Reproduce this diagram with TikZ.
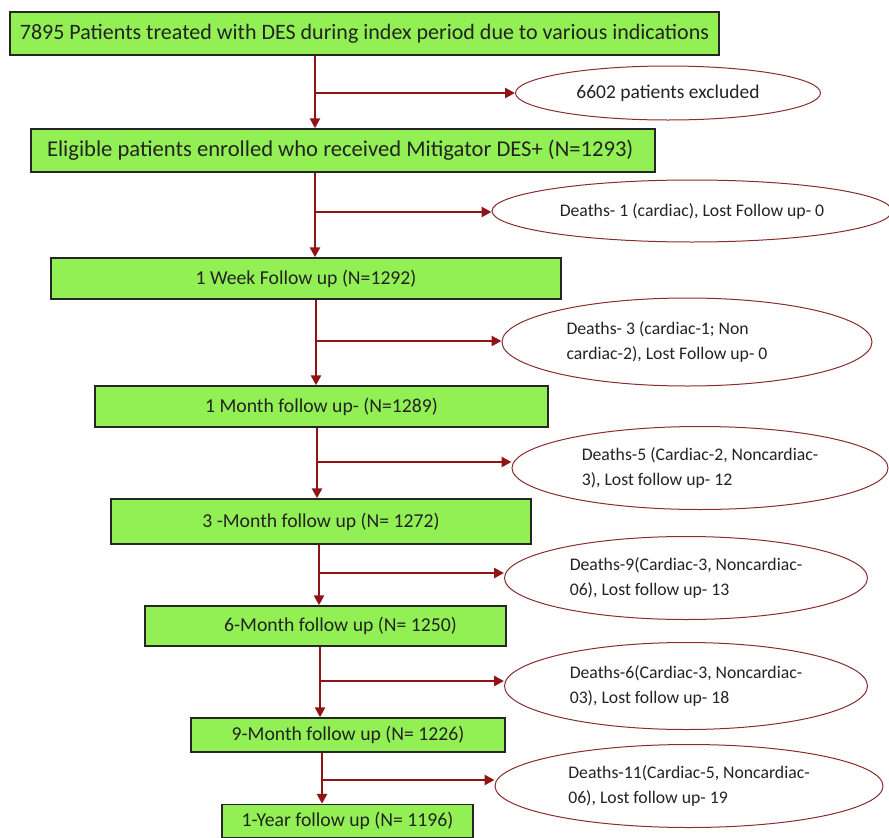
\documentclass[tikz,border=0pt]{standalone}
\usepackage{fontspec}
\setmainfont{Carlito}
\usetikzlibrary{shapes.geometric,arrows.meta}
\definecolor{boxgreen}{RGB}{146,240,84}
\definecolor{arrred}{RGB}{145,20,20}
\definecolor{ellred}{RGB}{135,45,45}
\definecolor{txt}{RGB}{35,35,35}
\begin{document}
\begin{tikzpicture}[x=1pt,y=-1pt,
  gbox/.style={draw=black!85, line width=1.4pt, fill=boxgreen, inner sep=0pt,
    text=txt, font=\fontsize{19.7}{22}\selectfont},
  bigtext/.style={font=\fontsize{22}{26}\selectfont},
  oval/.style={ellipse, draw=ellred, line width=1pt, fill=white, inner sep=0pt,
    text=txt, align=left, font=\fontsize{17.7}{25}\selectfont},
  flow/.style={draw=arrred, line width=2.8pt},
  arr/.style={flow, -{Triangle[length=10pt,width=10pt]}}]
\useasboundingbox (0,0) rectangle (889,838);

% boxes
\node[gbox, bigtext, minimum width=709pt, minimum height=43pt] (b1) at (364.5,33.5)
  {7895 Patients treated with DES during index period due to various indications};
\node[gbox, font=\fontsize{22.6}{26}\selectfont, minimum width=624pt, minimum height=43pt, inner xsep=16pt] (b2) at (343,150.5)
  {\makebox[592pt][l]{Eligible patients enrolled who received Mitigator DES+ (N=1293)}};
\node[gbox, minimum width=510pt, minimum height=41pt] (b3) at (306,278.5)
  {1 Week Follow up (N=1292)};
\node[gbox, minimum width=453pt, minimum height=41pt] (b4) at (321.5,406.5)
  {1 Month follow up- (N=1289)};
\node[gbox, minimum width=420pt, minimum height=45pt] (b5) at (321,521.5)
  {3 -Month follow up (N= 1272)};
\node[gbox, minimum width=361pt, minimum height=40pt] (b6) at (325.5,626)
  {\hspace*{30pt}6-Month follow up (N= 1250)};
\node[gbox, minimum width=314pt, minimum height=34pt] (b7) at (348,735)
  {9-Month follow up (N= 1226)};
\node[gbox, minimum width=251pt, minimum height=33pt] (b8) at (347.5,821)
  {1-Year follow up (N= 1196)};

% ellipses
\node[oval, font=\fontsize{19.5}{25}\selectfont, minimum width=305pt, minimum height=54pt] (e1) at (668,93)
  {6602 patients excluded};
\node[oval, minimum width=400pt, minimum height=62pt] (e2) at (692,211)
  {Deaths- 1 (cardiac), Lost Follow up- 0};
\node[oval, minimum width=370pt, minimum height=88pt] (e3) at (687,342)
  {Deaths- 3 (cardiac-1; Non\\cardiac-2), Lost Follow up- 0\hspace*{40pt}};
\node[oval, minimum width=376pt, minimum height=83pt] (e4) at (700,468)
  {Deaths-5 (Cardiac-2, Noncardiac-\\3), Lost follow up- 12};
\node[oval, minimum width=363pt, minimum height=83pt] (e5) at (686,578)
  {Deaths-9(Cardiac-3, Noncardiac-\\06), Lost follow up- 13};
\node[oval, minimum width=363pt, minimum height=87pt] (e6) at (686,686)
  {Deaths-6(Cardiac-3, Noncardiac-\\03), Lost follow up- 18};
\node[oval, minimum width=388pt, minimum height=83pt] (e7) at (689,786)
  {Deaths-11(Cardiac-5, Noncardiac-\\06), Lost follow up- 19};

% branch points
\coordinate (t1) at (315,93);
\coordinate (t2) at (315,212);
\coordinate (t3) at (316,341);
\coordinate (t4) at (317,462);
\coordinate (t5) at (319,573);
\coordinate (t6) at (320,681);
\coordinate (t7) at (322,780);

% connectors
\foreach \i/\j in {1/2,2/3,3/4,4/5,5/6,6/7,7/8}{
  \draw[flow] (b\i.south -| t\i) -- (t\i);
  \draw[arr] (t\i) -- (t\i |- b\j.north);
  \draw[arr] (t\i) -- (t\i -| e\i.west);
}
\end{tikzpicture}
\end{document}
